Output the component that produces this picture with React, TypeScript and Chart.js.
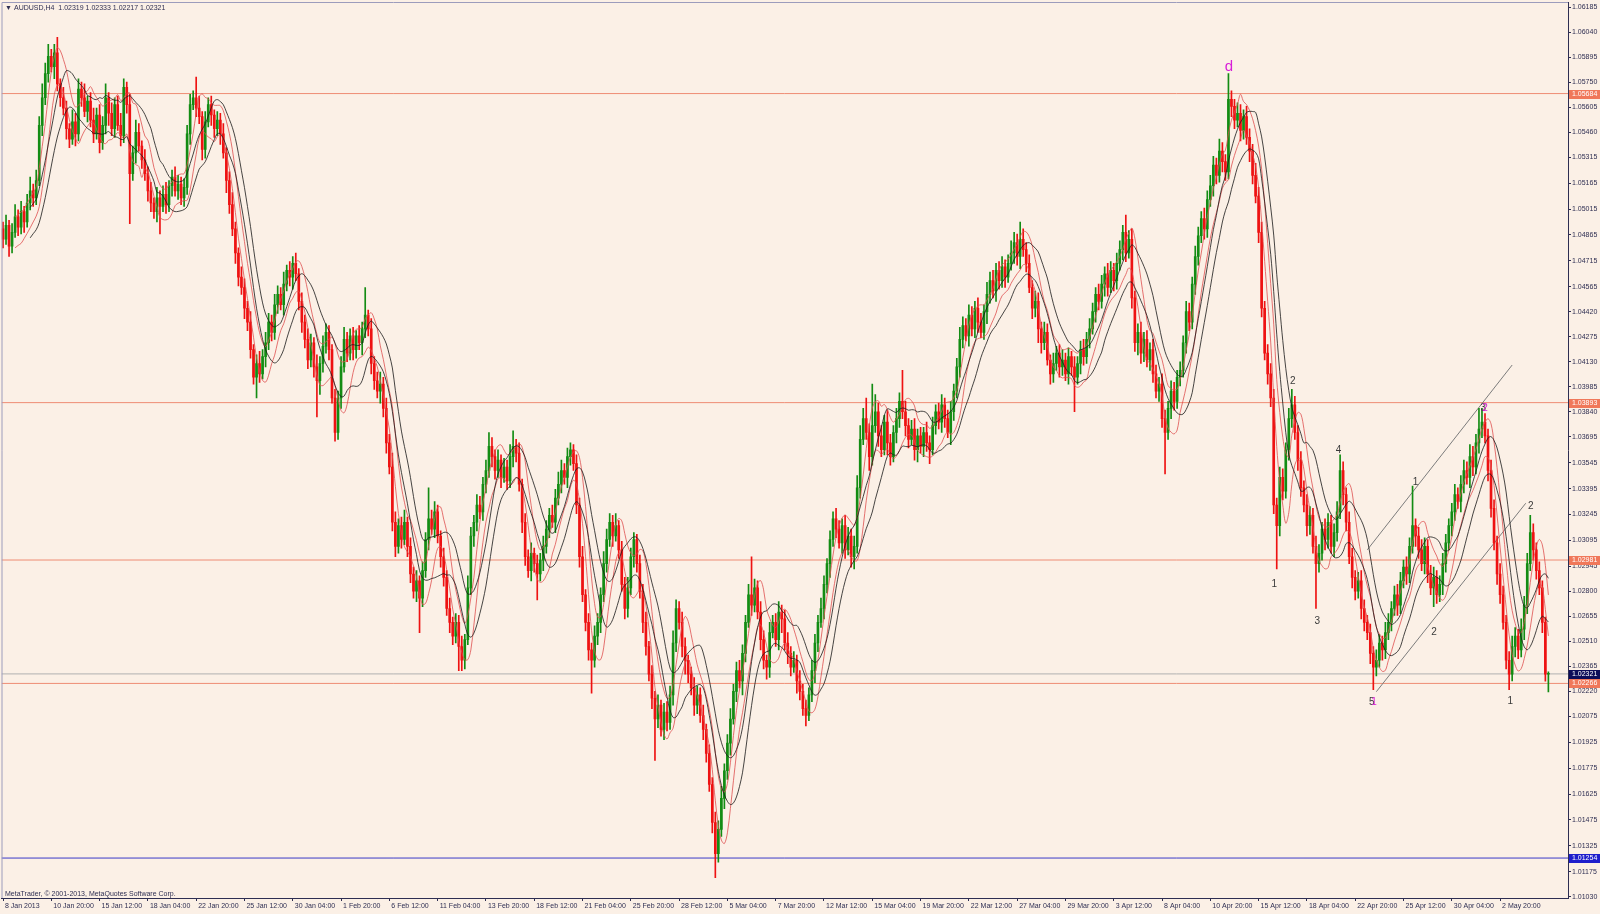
import { useEffect, useRef } from "react";
import { Chart, registerables } from "chart.js";

Chart.register(...registerables);

// ---------- DATA (prices in pips: 10497 = 1.0497) ----------
const PIP = 10000;
const symbol = "AUDUSD";
const timeframe = "H4";
const firstOpen = 10490;

// close of every H4 bar, 8 Jan 2013 00:00 ... 7 May 2013 12:00
const closes = [
  10484, 10492, 10480, 10488, 10497, 10491, 10500, 10494, 10505, 10512,
  10508, 10518, 10550, 10566, 10580, 10590, 10584, 10592, 10574, 10566,
  10560, 10548, 10542, 10552, 10545, 10571, 10566, 10558, 10564, 10553,
  10545, 10556, 10540, 10550, 10566, 10557, 10548, 10562, 10550, 10544,
  10572, 10562, 10522, 10534, 10546, 10538, 10530, 10522, 10512, 10505,
  10500, 10508, 10503, 10510, 10504, 10515, 10520, 10512, 10516, 10508,
  10514, 10545, 10562, 10566, 10560, 10555, 10536, 10552, 10562, 10556,
  10548, 10553, 10545, 10534, 10518, 10504, 10490, 10476, 10462, 10456,
  10444, 10436, 10420, 10404, 10412, 10406, 10416, 10424, 10436, 10430,
  10446, 10452, 10446, 10458, 10466, 10462, 10470, 10464, 10448, 10436,
  10426, 10414, 10424, 10410, 10402, 10412, 10422, 10430, 10420, 10392,
  10372, 10392, 10410, 10426, 10418, 10428, 10420, 10428, 10424, 10432,
  10440, 10432, 10412, 10402, 10396, 10400, 10386, 10366, 10352, 10320,
  10306, 10318, 10310, 10320, 10306, 10290, 10280, 10286, 10276, 10292,
  10310, 10322, 10316, 10326, 10312, 10300, 10288, 10270, 10262, 10254,
  10262, 10248, 10240, 10252, 10282, 10312, 10320, 10330, 10326, 10342,
  10350, 10364, 10358, 10350, 10356, 10346, 10352, 10344, 10358, 10364,
  10360, 10342, 10320, 10300, 10292, 10302, 10296, 10290, 10298, 10306,
  10316, 10324, 10320, 10334, 10342, 10350, 10346, 10358, 10362, 10354,
  10330, 10300, 10278, 10262, 10246, 10240, 10254, 10262, 10278, 10296,
  10310, 10320, 10312, 10318, 10304, 10284, 10270, 10282, 10300, 10310,
  10296, 10280, 10262, 10248, 10232, 10218, 10206, 10214, 10200, 10210,
  10204, 10220, 10250, 10270, 10262, 10248, 10240, 10232, 10224, 10214,
  10220, 10208, 10200, 10186, 10168, 10146, 10128, 10142, 10160, 10176,
  10192, 10206, 10222, 10234, 10228, 10244, 10262, 10278, 10272, 10282,
  10268, 10252, 10240, 10236, 10256, 10262, 10252, 10268, 10264, 10250,
  10244, 10236, 10240, 10228, 10222, 10212, 10208, 10220, 10234, 10250,
  10262, 10270, 10284, 10296, 10310, 10322, 10316, 10308, 10318, 10304,
  10312, 10300, 10306, 10340, 10368, 10380, 10372, 10358, 10376, 10384,
  10370, 10362, 10378, 10366, 10358, 10372, 10380, 10390, 10384, 10376,
  10368, 10374, 10362, 10370, 10364, 10372, 10366, 10362, 10376, 10384,
  10378, 10388, 10380, 10372, 10384, 10396, 10410, 10426, 10434, 10428,
  10440, 10432, 10444, 10436, 10430, 10442, 10452, 10460, 10454, 10466,
  10460, 10468, 10462, 10470, 10476, 10482, 10474, 10484, 10478, 10470,
  10456, 10444, 10448, 10432, 10424, 10430, 10414, 10406, 10412, 10418,
  10410, 10414, 10406, 10416, 10410, 10404, 10412, 10420, 10416, 10426,
  10432, 10442, 10452, 10448, 10458, 10464, 10456, 10466, 10460, 10470,
  10478, 10488, 10476, 10484, 10450, 10424, 10430, 10418, 10426, 10414,
  10420, 10406, 10396, 10400, 10380, 10372, 10386, 10396, 10390, 10404,
  10408, 10424, 10442, 10436, 10458, 10474, 10486, 10496, 10490, 10507,
  10515, 10527, 10521, 10535, 10529, 10523, 10565, 10561, 10553, 10557,
  10547, 10555, 10543, 10535, 10521, 10509, 10488, 10444, 10418, 10406,
  10392, 10330, 10318, 10346, 10338, 10362, 10380, 10388, 10372, 10356,
  10340, 10330, 10318, 10324, 10306, 10296, 10302, 10316, 10310, 10320,
  10306, 10314, 10326, 10350, 10336, 10320, 10300, 10288, 10280, 10286,
  10270, 10262, 10256, 10244, 10236, 10240, 10250, 10246, 10256, 10262,
  10270, 10278, 10272, 10286, 10294, 10290, 10306, 10318, 10312, 10304,
  10296, 10306, 10290, 10282, 10288, 10278, 10284, 10296, 10308, 10318,
  10326, 10336, 10332, 10342, 10350, 10346, 10358, 10352, 10366, 10374,
  10378, 10370, 10350, 10328, 10308, 10290, 10278, 10262, 10240, 10232,
  10248, 10254, 10246, 10258, 10272, 10296, 10314, 10304, 10292, 10282,
  10262, 10231.9, 10232.1,
];

// upper shadow length of each bar (pips above the body)
const upperWick = [
  4, 6, 3, 5, 7, 4, 6, 3, 5, 8,
  4, 6, 5, 8, 6, 7, 4, 5, 9, 3,
  6, 4, 3, 7, 5, 6, 4, 8, 3, 5,
  7, 4, 6, 5, 8, 3, 6, 4, 5, 7,
  5, 3, 6, 4, 7, 5, 3, 6, 4, 5,
  3, 6, 4, 5, 7, 3, 4, 6, 5, 4,
  5, 5, 6, 4, 12, 7, 3, 6, 4, 5,
  3, 5, 4, 6, 3, 5, 7, 4, 3, 6,
  5, 4, 6, 3, 5, 7, 4, 6, 5, 4,
  6, 5, 4, 7, 3, 5, 4, 6, 3, 5,
  4, 6, 5, 3, 7, 4, 6, 5, 4, 3,
  5, 4, 6, 7, 4, 4, 5, 3, 6, 4,
  16, 3, 6, 4, 5, 7, 4, 6, 5, 8,
  6, 4, 5, 7, 3, 5, 4, 6, 3, 5,
  4, 18, 5, 6, 4, 3, 5, 4, 6, 3,
  5, 4, 6, 3, 7, 5, 4, 6, 5, 4,
  6, 8, 5, 4, 6, 3, 5, 4, 7, 9,
  4, 6, 3, 5, 4, 6, 3, 5, 4, 6,
  5, 4, 6, 5, 7, 6, 4, 5, 4, 3,
  5, 4, 6, 3, 5, 4, 6, 5, 4, 7,
  6, 5, 4, 7, 3, 5, 4, 6, 5, 4,
  3, 5, 4, 6, 3, 5, 4, 6, 3, 5,
  6, 5, 7, 5, 4, 6, 5, 3, 4, 6,
  5, 4, 6, 3, 5, 4, 6, 5, 7, 4,
  5, 6, 4, 5, 6, 5, 4, 6, 22, 5,
  4, 6, 5, 3, 6, 4, 5, 6, 4, 5,
  6, 4, 5, 3, 6, 4, 5, 4, 6, 5,
  4, 6, 5, 3, 5, 4, 6, 5, 4, 6,
  5, 4, 6, 7, 8, 6, 12, 5, 24, 10,
  5, 6, 4, 7, 5, 4, 6, 5, 18, 6,
  4, 5, 6, 4, 5, 3, 6, 4, 5, 4,
  5, 6, 4, 5, 6, 4, 5, 7, 5, 4,
  6, 5, 4, 6, 5, 4, 7, 5, 6, 4,
  5, 6, 4, 5, 7, 6, 5, 10, 6, 4,
  5, 4, 6, 5, 4, 6, 5, 3, 6, 4,
  5, 6, 4, 5, 3, 6, 4, 5, 6, 4,
  6, 5, 4, 6, 5, 4, 6, 5, 4, 6,
  5, 4, 10, 5, 6, 4, 5, 6, 4, 5,
  4, 6, 5, 4, 6, 5, 4, 6, 5, 4,
  5, 4, 6, 5, 4, 6, 5, 4, 6, 5,
  6, 5, 4, 7, 5, 4, 15, 5, 4, 6,
  5, 4, 6, 5, 4, 7, 5, 6, 4, 5,
  6, 5, 4, 6, 5, 4, 6, 9, 5, 4,
  5, 4, 6, 5, 4, 6, 5, 4, 6, 5,
  4, 5, 6, 9, 5, 4, 6, 5, 4, 5,
  6, 5, 4, 5, 4, 6, 5, 4, 6, 5,
  4, 5, 6, 5, 4, 6, 5, 23, 4, 5,
  6, 5, 4, 5, 6, 4, 5, 6, 5, 4,
  5, 6, 4, 5, 6, 5, 7, 6, 5, 12,
  8, 5, 4, 6, 5, 4, 6, 5, 4, 5,
  6, 5, 4, 6, 5, 6, 10, 5, 4, 5,
  4, 3, 1.2,
];

// lower shadow length of each bar (pips below the body)
const lowerWick = [
  5, 3, 6, 4, 3, 5, 4, 6, 3, 4,
  5, 4, 3, 6, 4, 5, 3, 7, 4, 5,
  4, 6, 5, 3, 7, 4, 5, 3, 6, 4,
  5, 3, 6, 4, 5, 7, 4, 5, 3, 6,
  4, 5, 29, 4, 6, 3, 5, 4, 6, 5,
  4, 6, 16, 3, 5, 4, 6, 3, 5, 4,
  5, 4, 6, 3, 5, 4, 6, 5, 3, 6,
  5, 4, 6, 3, 7, 5, 4, 6, 5, 4,
  6, 5, 5, 4, 12, 5, 3, 6, 4, 5,
  4, 5, 3, 6, 4, 5, 7, 4, 5, 6,
  5, 5, 4, 6, 21, 8, 5, 4, 6, 3,
  5, 4, 6, 3, 5, 4, 6, 5, 4, 7,
  5, 4, 6, 5, 4, 7, 5, 6, 4, 5,
  6, 4, 5, 3, 6, 5, 4, 6, 20, 5,
  4, 6, 3, 5, 4, 6, 5, 4, 6, 5,
  4, 14, 6, 5, 3, 4, 6, 5, 4, 5,
  5, 4, 6, 5, 4, 6, 3, 5, 4, 6,
  5, 4, 6, 5, 4, 6, 5, 15, 4, 6,
  4, 5, 3, 6, 4, 5, 4, 6, 5, 4,
  5, 6, 4, 5, 6, 19, 4, 5, 6, 4,
  5, 4, 6, 3, 5, 4, 6, 5, 4, 6,
  5, 4, 6, 5, 4, 6, 24, 5, 4, 6,
  5, 4, 6, 5, 4, 6, 8, 5, 4, 6,
  5, 4, 6, 5, 4, 6, 14, 5, 4, 6,
  5, 7, 3, 6, 4, 8, 5, 3, 6, 4,
  4, 6, 5, 7, 6, 3, 4, 6, 8, 4,
  6, 5, 3, 7, 5, 4, 6, 3, 4, 7,
  5, 3, 6, 5, 8, 4, 5, 3, 6, 5,
  3, 6, 7, 4, 6, 3, 4, 8, 5, 4,
  6, 4, 3, 7, 5, 3, 6, 5, 4, 6,
  5, 3, 6, 7, 4, 6, 5, 8, 3, 5,
  4, 6, 5, 3, 7, 5, 4, 6, 5, 3,
  6, 4, 5, 6, 3, 4, 7, 5, 4, 6,
  5, 4, 6, 3, 4, 6, 5, 7, 4, 5,
  3, 6, 5, 8, 6, 4, 3, 6, 5, 4,
  6, 5, 4, 6, 5, 20, 4, 6, 5, 4,
  5, 3, 6, 5, 4, 7, 5, 3, 6, 5,
  4, 6, 5, 3, 6, 5, 7, 6, 5, 4,
  6, 5, 4, 6, 5, 24, 4, 6, 5, 4,
  5, 4, 6, 5, 4, 6, 5, 4, 6, 5,
  4, 6, 5, 4, 6, 5, 4, 6, 5, 4,
  6, 5, 4, 6, 5, 4, 6, 5, 4, 6,
  5, 5, 25, 6, 5, 4, 6, 5, 4, 6,
  5, 4, 6, 5, 4, 26, 5, 4, 6, 5,
  4, 6, 5, 4, 6, 5, 4, 6, 5, 4,
  6, 5, 4, 6, 13, 5, 4, 6, 5, 4,
  5, 4, 6, 5, 4, 6, 5, 4, 6, 5,
  4, 6, 5, 4, 11, 5, 4, 6, 5, 4,
  6, 5, 4, 6, 5, 4, 6, 5, 4, 6,
  5, 4, 6, 5, 4, 6, 5, 4, 5, 9,
  4, 6, 5, 4, 6, 5, 4, 6, 5, 4,
  6, 4, 10.2,
];

// time axis: one label every 16 bars, starting at bar 0
const timeLabels = [
  "8 Jan 2013", "10 Jan 20:00", "15 Jan 12:00", "18 Jan 04:00", "22 Jan 20:00",
  "25 Jan 12:00", "30 Jan 04:00", "1 Feb 20:00", "6 Feb 12:00", "11 Feb 04:00",
  "13 Feb 20:00", "18 Feb 12:00", "21 Feb 04:00", "25 Feb 20:00", "28 Feb 12:00",
  "5 Mar 04:00", "7 Mar 20:00", "12 Mar 12:00", "15 Mar 04:00", "19 Mar 20:00",
  "22 Mar 12:00", "27 Mar 04:00", "29 Mar 20:00", "3 Apr 12:00", "8 Apr 04:00",
  "10 Apr 20:00", "15 Apr 12:00", "18 Apr 04:00", "22 Apr 20:00", "25 Apr 12:00",
  "30 Apr 04:00", "2 May 20:00",
];
const labelStep = 16;
const barSlots = 519;

// price axis labels
const priceTicks = [
  1.06185, 1.0604, 1.05895, 1.0575, 1.05605, 1.0546, 1.05315, 1.05165, 1.05015,
  1.04865, 1.04715, 1.04565, 1.0442, 1.04275, 1.0413, 1.03985, 1.0384, 1.03695,
  1.03545, 1.03395, 1.03245, 1.03095, 1.02945, 1.028, 1.02655, 1.0251, 1.02365,
  1.0222, 1.02075, 1.01925, 1.01775, 1.01625, 1.01475, 1.01325, 1.01175, 1.0103,
];
const priceMin = 1.010225;
const priceMax = 1.062146;

// horizontal levels
const resistanceLevels = [1.05684, 1.03893, 1.02981, 1.02266];
const supportLevel = 1.01254;

// channel lines [bar, price]
const channelUpper = [[452, 1.0304], [500, 1.04111]];
const channelLower = [[455, 1.02218], [504.5, 1.0331]];

// wave labels: text, bar, price, magenta?
const waveLabels: [string, number, number, boolean][] = [
  ["1", 421.2, 1.02839, false],
  ["2", 427.3, 1.04015, false],
  ["3", 435.4, 1.02627, false],
  ["4", 442.5, 1.03619, false],
  ["5", 453.5, 1.02159, false],
  ["1", 454.2, 1.02159, true],
  ["1", 468.0, 1.0343, false],
  ["2", 474.1, 1.0256, false],
  ["3", 490.4, 1.03862, false],
  ["2", 491.0, 1.03862, true],
  ["1", 499.4, 1.02165, false],
  ["2", 506.2, 1.03294, false],
];
const dLabel: [string, number, number] = ["d", 406.2, 1.0584];

// ---------- STYLE ----------
const BG = "#FBF0E6";
const BULL = "#138c13";
const BEAR = "#EE1212";
const AXIS = "#2E2E52";
const LEVEL = "#EE8C74";
const FONT = "'Liberation Sans', Arial, 'DejaVu Sans', sans-serif";

const candles = closes.map((c, i) => {
  const o = i === 0 ? firstOpen : closes[i - 1];
  const h = Math.max(o, c) + upperWick[i];
  const l = Math.min(o, c) - lowerWick[i];
  return { o: o / PIP, h: h / PIP, l: l / PIP, c: c / PIP };
});

function sma(vals: number[], n: number) {
  const out: { x: number; y: number }[] = [];
  for (let i = n - 1; i < vals.length; i++) {
    let s = 0;
    for (let k = i - n + 1; k <= i; k++) s += vals[k];
    out.push({ x: i, y: s / n });
  }
  return out;
}

const highs = candles.map((b) => b.h);
const lows = candles.map((b) => b.l);
const fmt = (v: number) => v.toFixed(5);

export default function App() {
  const ref = useRef<HTMLCanvasElement | null>(null);

  useEffect(() => {
    document.body.style.margin = "0";
    document.body.style.background = BG;
    const canvas = ref.current;
    if (!canvas) return;

    const hLine = (v: number, color: string, order: number) => ({
      type: "line" as const,
      data: [
        { x: -0.5, y: v },
        { x: barSlots - 0.5, y: v },
      ],
      borderColor: color,
      borderWidth: 1,
      pointRadius: 0,
      order,
    });
    const segLine = (pts: number[][], color: string) => ({
      type: "line" as const,
      data: pts.map((p) => ({ x: p[0], y: p[1] })),
      borderColor: color,
      borderWidth: 1,
      pointRadius: 0,
      order: 9,
    });
    const maLine = (data: { x: number; y: number }[], color: string) => ({
      type: "line" as const,
      data,
      borderColor: color,
      borderWidth: 1,
      pointRadius: 0,
      tension: 0.35,
      order: 1,
    });

    const last = candles[candles.length - 1];
    const bid = last.c;

    const decor = {
      id: "decor",
      beforeDraw(chart: any) {
        const { ctx } = chart;
        ctx.save();
        ctx.fillStyle = BG;
        ctx.fillRect(0, 0, chart.width, chart.height);
        ctx.restore();
      },
      afterDraw(chart: any) {
        const { ctx, chartArea: a, scales } = chart;
        const xs = scales.x;
        const ys = scales.y;
        ctx.save();
        // frame (top & left)
        ctx.strokeStyle = "#9C9CBC";
        ctx.lineWidth = 1;
        ctx.beginPath();
        ctx.moveTo(a.left + 0.5, a.bottom);
        ctx.lineTo(a.left + 0.5, a.top + 0.5);
        ctx.lineTo(a.right, a.top + 0.5);
        ctx.stroke();

        // header & footer
        ctx.fillStyle = AXIS;
        ctx.font = `7px ${FONT}`;
        ctx.textBaseline = "middle";
        ctx.textAlign = "left";
        ctx.fillText("\u25BC", 5, 8);
        ctx.fillText(
          `${symbol},${timeframe}  ${fmt(last.o)} ${fmt(last.h)} ${fmt(last.l)} ${fmt(last.c)}`,
          14,
          8
        );
        ctx.fillText("MetaTrader, \u00A9 2001-2013, MetaQuotes Software Corp.", 5, a.bottom - 4);

        // wave labels
        ctx.textAlign = "center";
        ctx.font = `10px ${FONT}`;
        for (const [t, b, p, mag] of waveLabels) {
          ctx.fillStyle = mag ? "#D81ED8" : "#3A3A3A";
          ctx.fillText(t, xs.getPixelForValue(b), ys.getPixelForValue(p));
        }
        ctx.font = `15px ${FONT}`;
        ctx.fillStyle = "#D81ED8";
        ctx.fillText(dLabel[0], xs.getPixelForValue(dLabel[1]), ys.getPixelForValue(dLabel[2]));

        // price boxes on the axis
        const box = (v: number, bg: string) => {
          const py = ys.getPixelForValue(v);
          ctx.fillStyle = bg;
          ctx.fillRect(a.right + 1, Math.round(py) - 4, chart.width - a.right - 1, 9);
          ctx.fillStyle = "#FFFFFF";
          ctx.font = `7px ${FONT}`;
          ctx.textAlign = "left";
          ctx.fillText(fmt(v), a.right + 4, Math.round(py) + 0.5);
        };
        resistanceLevels.forEach((v) => box(v, "#F0785A"));
        box(bid, "#0C0C58");
        box(supportLevel, "#1E1ECC");
        ctx.restore();
      },
    };

    const chart = new Chart(canvas, {
      type: "bar",
      data: {
        datasets: [
          ...resistanceLevels.map((v) => hLine(v, LEVEL, 10)),
          hLine(supportLevel, "#3A3AC8", 10),
          hLine(bid, "#B0B0B0", 10),
          segLine(channelUpper, "#7C7C7C"),
          segLine(channelLower, "#7C7C7C"),
          {
            type: "bar" as const,
            data: candles.map((b, i) => ({ x: i, y: [b.l, b.h] })),
            backgroundColor: candles.map((b) => (b.c >= b.o ? BULL : BEAR)),
            barThickness: 1,
            grouped: false,
            order: 5,
          } as any,
          {
            type: "bar" as const,
            data: candles.map((b, i) => ({ x: i, y: [b.o, b.c] })),
            backgroundColor: candles.map((b) => (b.c >= b.o ? BULL : BEAR)),
            barThickness: 2,
            minBarLength: 1,
            grouped: false,
            order: 4,
          } as any,
          maLine(sma(highs, 10), "rgba(25,25,25,0.8)"),
          maLine(sma(lows, 10), "rgba(25,25,25,0.8)"),
          maLine(sma(highs, 5), "rgba(222,80,80,0.8)"),
          maLine(sma(lows, 5), "rgba(222,80,80,0.8)"),
        ] as any,
      },
      options: {
        animation: false,
        responsive: false,
        devicePixelRatio: 1,
        events: [],
        layout: { padding: { top: 2, left: 1.5, right: 0, bottom: 0 } },
        plugins: { legend: { display: false }, tooltip: { enabled: false } },
        scales: {
          x: {
            type: "linear",
            position: "bottom",
            offset: false,
            min: -0.5,
            max: barSlots - 0.5,
            bounds: "data",
            afterBuildTicks: (s: any) => {
              s.ticks = timeLabels.map((_, k) => ({ value: k * labelStep }));
            },
            afterFit: (s: any) => {
              s.height = 16;
              s.paddingLeft = 0;
              s.paddingRight = 0;
            },
            ticks: {
              autoSkip: false,
              maxRotation: 0,
              minRotation: 0,
              align: "start",
              labelOffset: 2,
              padding: 1,
              color: AXIS,
              font: { family: FONT, size: 7 },
              callback: (_v: any, i: number) => timeLabels[i] ?? "",
            },
            grid: { display: true, offset: false, drawOnChartArea: false, drawTicks: true, tickLength: 3, color: AXIS },
            border: { display: true, color: AXIS, width: 1 },
          },
          y: {
            type: "linear",
            position: "right",
            min: priceMin,
            max: priceMax,
            bounds: "data",
            afterBuildTicks: (s: any) => {
              s.ticks = priceTicks.map((v) => ({ value: v }));
            },
            afterFit: (s: any) => {
              s.width = 32;
              s.paddingTop = 0;
              s.paddingBottom = 0;
            },
            ticks: {
              autoSkip: false,
              padding: 1,
              color: AXIS,
              font: { family: FONT, size: 7 },
              callback: (v: any) => Number(v).toFixed(5),
            },
            grid: { display: true, drawOnChartArea: false, drawTicks: true, tickLength: 3, color: AXIS },
            border: { display: true, color: AXIS, width: 1 },
          },
        },
      } as any,
      plugins: [decor],
    });

    return () => chart.destroy();
  }, []);

  return (
    <div style={{ width: 1600, height: 914, position: "relative", background: BG }}>
      <canvas ref={ref} width={1600} height={914} style={{ display: "block", width: 1600, height: 914 }} />
    </div>
  );
}
